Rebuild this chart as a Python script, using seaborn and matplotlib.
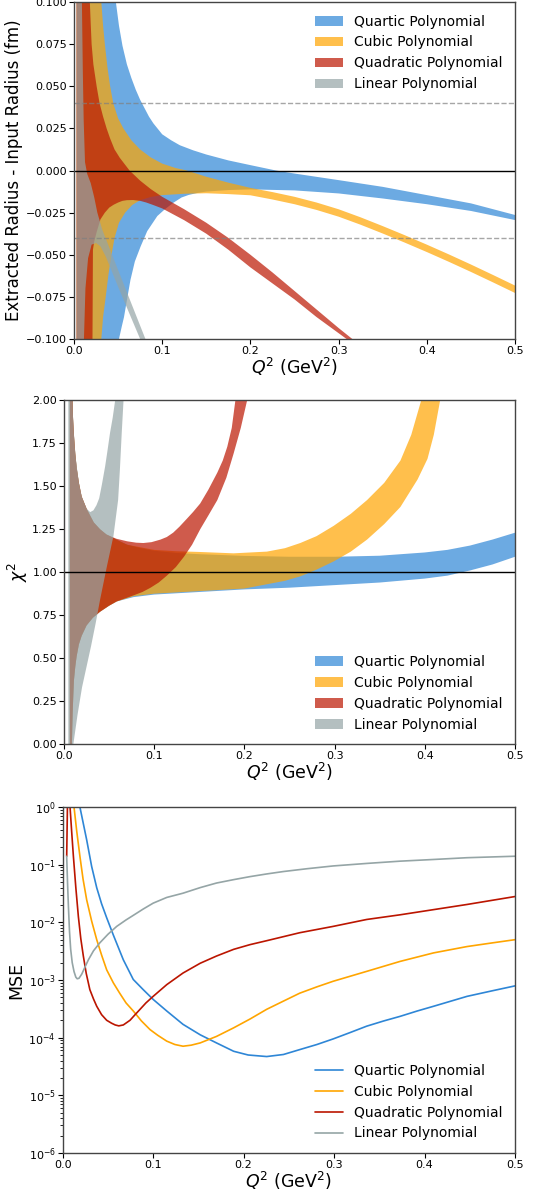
import matplotlib
matplotlib.use("Agg")
import matplotlib.pyplot as plt
import seaborn as sns
import pandas as pd

# estilo base de seaborn, luego fuentes y colores
sns.set_style("ticks")
plt.rcParams['font.family'] = ['DejaVu Sans']
plt.rcParams['text.color'] = 'black'
plt.rcParams['axes.labelcolor'] = 'black'
plt.rcParams['xtick.color'] = 'black'
plt.rcParams['ytick.color'] = 'black'
plt.rcParams['axes.edgecolor'] = '#333333'

AZUL = "#2E86D6"
NARANJA = "#FFA500"
ROJO = "#BB1500"
GRIS = "#95A5A6"
COLORES = [AZUL, NARANJA, ROJO, GRIS]
NOMBRES = ["Quartic Polynomial", "Cubic Polynomial", "Quadratic Polynomial", "Linear Polynomial"]
XLABEL = "$Q^2$ (GeV$^2$)"

# ---------------------------------------------------------------
# Panel 1: radio extraido - radio de entrada (bandas)
# ---------------------------------------------------------------
r4_up_x = [0.003, 0.040, 0.0475, 0.051, 0.055, 0.060, 0.065, 0.070, 0.075, 0.080, 0.085, 0.090, 0.100, 0.110, 0.120, 0.135,
           0.150, 0.175, 0.200, 0.229, 0.250, 0.300, 0.350, 0.400, 0.450, 0.500]
r4_up_y = [0.150, 0.150, 0.100, 0.086, 0.074, 0.063, 0.055, 0.048, 0.042, 0.037, 0.032, 0.028, 0.0215, 0.018, 0.015, 0.012,
           0.0095, 0.0060, 0.0032, 0.000, -0.0018, -0.0057, -0.0097, -0.0146, -0.0195, -0.0264]
r4_lo_x = [0.003, 0.045, 0.051, 0.054, 0.0567, 0.060, 0.064, 0.069, 0.0756, 0.083, 0.0945, 0.103, 0.113, 0.122, 0.130, 0.140,
           0.150, 0.175, 0.200, 0.250, 0.300, 0.350, 0.400, 0.450, 0.500]
r4_lo_y = [-0.150, -0.150, -0.100, -0.093, -0.087, -0.077, -0.065, -0.054, -0.045, -0.036, -0.027, -0.023, -0.019, -0.016, -0.0145, -0.0133,
           -0.0125, -0.0116, -0.0112, -0.0118, -0.0136, -0.0166, -0.0200, -0.0240, -0.0294]

r3_up_x = [0.003, 0.028, 0.031, 0.033, 0.035, 0.038, 0.041, 0.0445, 0.050, 0.056, 0.065, 0.075, 0.087, 0.100, 0.115, 0.128,
           0.150, 0.175, 0.200, 0.225, 0.250, 0.275, 0.300, 0.325, 0.350, 0.375, 0.400, 0.425, 0.450, 0.475, 0.500]
r3_up_y = [0.150, 0.150, 0.100, 0.086, 0.075, 0.061, 0.050, 0.040, 0.031, 0.025, 0.018, 0.0125, 0.0078, 0.0041, 0.0015, 0.000,
           -0.0037, -0.0072, -0.0103, -0.0128, -0.0156, -0.0190, -0.0230, -0.0278, -0.0330, -0.0384, -0.0440, -0.0498, -0.0558, -0.0620, -0.0683]
r3_lo_x = [0.003, 0.028, 0.031, 0.033, 0.036, 0.039, 0.0426, 0.046, 0.051, 0.058, 0.066, 0.075, 0.087, 0.100, 0.125, 0.150, 0.175,
           0.200, 0.225, 0.250, 0.275, 0.300, 0.325, 0.350, 0.375, 0.400, 0.425, 0.450, 0.475, 0.500]
r3_lo_y = [-0.150, -0.150, -0.100, -0.087, -0.075, -0.062, -0.050, -0.040, -0.031, -0.025, -0.0205, -0.0176, -0.0157, -0.0146, -0.0138, -0.0135, -0.0140,
           -0.0147, -0.0172, -0.0200, -0.0234, -0.0274, -0.0322, -0.0374, -0.0428, -0.0484, -0.0542, -0.0602, -0.0664, -0.0727]

r2_up_x = [0.003, 0.016, 0.018, 0.019, 0.020, 0.022, 0.0257, 0.029, 0.033, 0.037, 0.041, 0.046, 0.052, 0.063, 0.075, 0.087,
           0.100, 0.125, 0.150, 0.175, 0.200, 0.225, 0.250, 0.275, 0.300, 0.3155, 0.330]
r2_up_y = [0.150, 0.150, 0.100, 0.087, 0.075, 0.063, 0.050, 0.040, 0.032, 0.025, 0.019, 0.0125, 0.0075, 0.000, -0.006, -0.011,
           -0.0156, -0.023, -0.031, -0.040, -0.050, -0.0605, -0.0715, -0.0825, -0.0935, -0.100, -0.106]
r2_lo_x = [0.003, 0.0205, 0.0215, 0.023, 0.026, 0.030, 0.035, 0.040, 0.045, 0.050, 0.055, 0.060, 0.067, 0.075, 0.082, 0.090,
           0.100, 0.125, 0.150, 0.175, 0.200, 0.225, 0.250, 0.275, 0.309, 0.330]
r2_lo_y = [-0.150, -0.150, -0.047, -0.042, -0.036, -0.029, -0.025, -0.022, -0.0203, -0.019, -0.018, -0.0176, -0.0175, -0.018, -0.019, -0.0205,
           -0.0225, -0.0295, -0.0375, -0.0470, -0.0575, -0.0670, -0.0765, -0.0870, -0.100, -0.108]

r1_up_x = [0.0035, 0.0088, 0.009, 0.0095, 0.010, 0.011, 0.0125, 0.015, 0.019, 0.023, 0.0265, 0.032, 0.050, 0.081, 0.090]
r1_up_y = [0.150, 0.150, 0.100, 0.080, 0.060, 0.030, 0.005, -0.002, -0.0075, -0.016, -0.025, -0.035, -0.059, -0.100, -0.112]
r1_lo_x = [0.0035, 0.0105, 0.0113, 0.013, 0.016, 0.020, 0.025, 0.030, 0.036, 0.050, 0.075, 0.090]
r1_lo_y = [-0.150, -0.150, -0.100, -0.070, -0.052, -0.044, -0.043, -0.045, -0.051, -0.069, -0.100, -0.118]

# ---------------------------------------------------------------
# Panel 2: chi^2 (bandas)
# ---------------------------------------------------------------
c4_up_x = [0.0065, 0.0095, 0.010, 0.011, 0.0125, 0.014, 0.0165, 0.0196, 0.025, 0.033, 0.040, 0.047, 0.058, 0.070, 0.085,
           0.100, 0.125, 0.150, 0.200, 0.250, 0.300, 0.350, 0.400, 0.425, 0.450, 0.475, 0.500]
c4_up_y = [3.0, 2.0, 1.90, 1.80, 1.69, 1.61, 1.52, 1.44, 1.37, 1.29, 1.25, 1.22, 1.19, 1.16, 1.14,
           1.125, 1.112, 1.105, 1.095, 1.09, 1.09, 1.096, 1.115, 1.13, 1.155, 1.19, 1.23]
c4_lo_x = [0.0065, 0.0088, 0.0092, 0.0096, 0.0103, 0.011, 0.0125, 0.014, 0.0165, 0.0196, 0.025, 0.032, 0.040, 0.050, 0.0585,
           0.077, 0.100, 0.150, 0.200, 0.250, 0.300, 0.350, 0.400, 0.425, 0.450, 0.475, 0.500]
c4_lo_y = [-1.0, 0.0, 0.10, 0.18, 0.28, 0.37, 0.45, 0.51, 0.58, 0.63, 0.69, 0.735, 0.77, 0.805, 0.83,
           0.855, 0.87, 0.885, 0.90, 0.91, 0.925, 0.94, 0.963, 0.98, 1.01, 1.045, 1.09]

c3_up_x = [0.0065, 0.0095, 0.010, 0.011, 0.0125, 0.014, 0.0165, 0.0196, 0.025, 0.033, 0.040, 0.047, 0.058, 0.070, 0.085,
           0.100, 0.125, 0.150, 0.188, 0.225, 0.245, 0.262, 0.280, 0.299, 0.318, 0.336, 0.355, 0.373, 0.385, 0.396, 0.410]
c3_up_y = [3.0, 2.0, 1.90, 1.80, 1.69, 1.61, 1.52, 1.44, 1.37, 1.29, 1.25, 1.22, 1.19, 1.16, 1.145,
           1.13, 1.122, 1.118, 1.11, 1.12, 1.14, 1.17, 1.21, 1.27, 1.34, 1.42, 1.52, 1.65, 1.80, 2.0, 2.4]
c3_lo_x = [0.0065, 0.0088, 0.0092, 0.0096, 0.0103, 0.011, 0.0125, 0.014, 0.0165, 0.0196, 0.025, 0.032, 0.040, 0.050, 0.0585,
           0.077, 0.100, 0.150, 0.200, 0.225, 0.245, 0.262, 0.280, 0.299, 0.318, 0.336, 0.355, 0.373, 0.392, 0.403, 0.410, 0.417, 0.425]
c3_lo_y = [-1.0, 0.0, 0.10, 0.18, 0.28, 0.37, 0.45, 0.51, 0.58, 0.63, 0.69, 0.735, 0.77, 0.805, 0.83,
           0.86, 0.875, 0.89, 0.905, 0.93, 0.95, 0.976, 1.015, 1.063, 1.12, 1.19, 1.28, 1.38, 1.54, 1.66, 1.80, 2.0, 2.3]

c2_up_x = [0.0065, 0.0095, 0.010, 0.011, 0.0125, 0.014, 0.0165, 0.0196, 0.025, 0.033, 0.040, 0.047, 0.058, 0.070, 0.080,
           0.088, 0.097, 0.107, 0.114, 0.121, 0.128, 0.136, 0.143, 0.151, 0.160, 0.170, 0.176, 0.181, 0.186, 0.190, 0.195]
c2_up_y = [3.0, 2.0, 1.90, 1.80, 1.69, 1.61, 1.52, 1.44, 1.37, 1.29, 1.25, 1.22, 1.195, 1.18, 1.172,
           1.17, 1.175, 1.19, 1.205, 1.23, 1.265, 1.31, 1.35, 1.40, 1.48, 1.58, 1.65, 1.73, 1.84, 2.0, 2.3]
c2_lo_x = [0.0065, 0.0088, 0.0092, 0.0096, 0.0103, 0.011, 0.0125, 0.014, 0.0165, 0.0196, 0.025, 0.032, 0.040, 0.050, 0.0585,
           0.077, 0.087, 0.096, 0.105, 0.114, 0.124, 0.133, 0.142, 0.151, 0.160, 0.170, 0.180, 0.188, 0.196, 0.203, 0.210]
c2_lo_y = [-1.0, 0.0, 0.10, 0.18, 0.28, 0.37, 0.45, 0.51, 0.58, 0.63, 0.69, 0.735, 0.77, 0.805, 0.83,
           0.865, 0.885, 0.91, 0.94, 0.98, 1.03, 1.09, 1.16, 1.25, 1.33, 1.42, 1.55, 1.69, 1.84, 2.0, 2.3]

c1_up_x = [0.0048, 0.0092, 0.0095, 0.010, 0.011, 0.0125, 0.014, 0.0165, 0.0196, 0.025, 0.029, 0.0326, 0.036, 0.039, 0.042,
           0.0456, 0.048, 0.051, 0.054, 0.0567, 0.060]
c1_up_y = [3.0, 3.0, 2.0, 1.90, 1.80, 1.69, 1.62, 1.52, 1.44, 1.37, 1.35, 1.36, 1.39, 1.43, 1.51,
           1.616, 1.70, 1.81, 1.90, 2.0, 2.4]
c1_lo_x = [0.0048, 0.0097, 0.0104, 0.015, 0.020, 0.025, 0.030, 0.035, 0.040, 0.0474, 0.0548, 0.060, 0.062, 0.064, 0.066, 0.070]
c1_lo_y = [-1.0, -1.0, 0.0, 0.17, 0.33, 0.45, 0.57, 0.70, 0.84, 1.03, 1.21, 1.42, 1.60, 1.81, 2.0, 2.6]

# ---------------------------------------------------------------
# Panel 3: MSE (lineas, escala log)
# ---------------------------------------------------------------
m4_x = [0.017, 0.019, 0.0265, 0.032, 0.0376, 0.043, 0.0486, 0.056, 0.067, 0.078, 0.089, 0.100, 0.115, 0.133, 0.152, 0.170,
        0.189, 0.205, 0.2255, 0.244, 0.262, 0.281, 0.299, 0.318, 0.336, 0.355, 0.373, 0.392, 0.410, 0.447, 0.475, 0.500]
m4_y = [2.0, 1.0, 0.269, 9.3e-2, 3.98e-2, 2.09e-2, 1.20e-2, 6.0e-3, 2.24e-3, 1.02e-3, 6.8e-4, 4.6e-4, 2.9e-4, 1.7e-4, 1.12e-4, 8.1e-5,
        5.8e-5, 5.0e-5, 4.7e-5, 5.1e-5, 6.2e-5, 7.6e-5, 9.5e-5, 1.23e-4, 1.58e-4, 1.95e-4, 2.34e-4, 2.9e-4, 3.5e-4, 5.2e-4, 6.5e-4, 7.9e-4]

m3_x = [0.0115, 0.0125, 0.0155, 0.019, 0.0225, 0.0265, 0.032, 0.0376, 0.043, 0.0486, 0.056, 0.063, 0.070, 0.078, 0.087, 0.0965,
        0.105, 0.115, 0.124, 0.133, 0.142, 0.152, 0.170, 0.189, 0.207, 0.2255, 0.244, 0.262, 0.281, 0.299, 0.336, 0.373, 0.410,
        0.447, 0.475, 0.500]
m3_y = [2.0, 1.0, 0.38, 0.14, 5.6e-2, 2.45e-2, 1.05e-2, 5.0e-3, 2.7e-3, 1.5e-3, 8.9e-4, 5.9e-4, 4.0e-4, 2.9e-4, 1.95e-4, 1.38e-4,
        1.1e-4, 8.7e-5, 7.6e-5, 7.1e-5, 7.4e-5, 8.1e-5, 1.05e-4, 1.48e-4, 2.1e-4, 3.1e-4, 4.3e-4, 5.9e-4, 7.6e-4, 9.5e-4, 1.41e-3, 2.1e-3, 2.95e-3,
        3.8e-3, 4.4e-3, 5.0e-3]

m2_x = [0.0044, 0.0055, 0.0075, 0.0081, 0.010, 0.0118, 0.0145, 0.0173, 0.020, 0.0228, 0.026, 0.030, 0.034, 0.0376, 0.043, 0.0486,
        0.054, 0.058, 0.062, 0.067, 0.0744, 0.080, 0.0855, 0.092, 0.100, 0.115, 0.133, 0.152, 0.170, 0.189, 0.207, 0.2255, 0.262,
        0.299, 0.336, 0.373, 0.410, 0.447, 0.500]
m2_y = [0.14, 2.0, 2.0, 1.0, 0.355, 0.14, 4.0e-2, 1.26e-2, 5.2e-3, 2.6e-3, 1.3e-3, 6.8e-4, 4.7e-4, 3.5e-4, 2.5e-4, 2.0e-4,
        1.78e-4, 1.66e-4, 1.6e-4, 1.66e-4, 2.0e-4, 2.5e-4, 3.1e-4, 4.0e-4, 5.2e-4, 8.3e-4, 1.32e-3, 1.95e-3, 2.6e-3, 3.4e-3, 4.1e-3, 4.8e-3, 6.6e-3,
        8.5e-3, 1.12e-2, 1.35e-2, 1.66e-2, 2.04e-2, 2.8e-2]

m1_x = [0.0044, 0.0053, 0.0063, 0.0075, 0.0088, 0.0105, 0.0125, 0.0145, 0.016, 0.018, 0.021, 0.0245, 0.0284, 0.034, 0.041, 0.050,
        0.0597, 0.070, 0.078, 0.089, 0.100, 0.115, 0.133, 0.152, 0.170, 0.189, 0.207, 0.2255, 0.244, 0.270, 0.299, 0.336, 0.373,
        0.410, 0.447, 0.500]
m1_y = [0.14, 5.0e-2, 1.9e-2, 7.0e-3, 3.4e-3, 2.0e-3, 1.4e-3, 1.12e-3, 1.05e-3, 1.07e-3, 1.26e-3, 1.66e-3, 2.24e-3, 3.2e-3, 4.4e-3, 6.2e-3,
        8.5e-3, 1.1e-2, 1.32e-2, 1.7e-2, 2.15e-2, 2.7e-2, 3.2e-2, 4.0e-2, 4.8e-2, 5.5e-2, 6.2e-2, 6.9e-2, 7.6e-2, 8.5e-2, 9.5e-2, 0.105, 0.115,
        0.123, 0.132, 0.140]


def dibujar_banda(ax, up_x, up_y, lo_x, lo_y, color, nombre):
    # poligono cerrado: borde superior y luego el inferior al reves
    xs = list(up_x) + list(lo_x)[::-1]
    ys = list(up_y) + list(lo_y)[::-1]
    ax.fill(xs, ys, color=color, alpha=0.7, linewidth=0, label=nombre)


def estilo_eje(ax):
    ax.tick_params(labelsize=8, length=3.5, width=0.8, pad=1.5)
    for lado in ax.spines.values():
        lado.set_linewidth(1.0)
        lado.set_color('#444444')
    ax.set_xlim(0, 0.5)
    ax.set_xticks([0.0, 0.1, 0.2, 0.3, 0.4, 0.5])
    ax.set_xticklabels(["0.0", "0.1", "0.2", "0.3", "0.4", "0.5"])
    ax.set_xlabel(XLABEL, fontsize=12.5, labelpad=0)


figura = plt.figure(figsize=(5.36, 12), dpi=100)
ax1 = figura.add_axes([0.138, 0.7175, 0.823, 0.2808])
ax2 = figura.add_axes([0.1194, 0.380, 0.8414, 0.2863])
ax3 = figura.add_axes([0.117, 0.0392, 0.8438, 0.2883])

# Panel 1
bandas_r = [(r4_up_x, r4_up_y, r4_lo_x, r4_lo_y), (r3_up_x, r3_up_y, r3_lo_x, r3_lo_y),
            (r2_up_x, r2_up_y, r2_lo_x, r2_lo_y), (r1_up_x, r1_up_y, r1_lo_x, r1_lo_y)]
for (ux, uy, lx, ly), color, nombre in zip(bandas_r, COLORES, NOMBRES):
    dibujar_banda(ax1, ux, uy, lx, ly, color, nombre)
ax1.axhline(0, color='black', lw=1)
ax1.axhline(0.04, color='gray', lw=1, ls='--', alpha=0.7)
ax1.axhline(-0.04, color='gray', lw=1, ls='--', alpha=0.7)
estilo_eje(ax1)
ax1.set_ylim(-0.1, 0.1)
ax1.set_yticks([-0.1, -0.075, -0.05, -0.025, 0.0, 0.025, 0.05, 0.075, 0.1])
ax1.set_ylabel("Extracted Radius - Input Radius (fm)", fontsize=12, labelpad=2)
ax1.legend(loc='upper right', frameon=False, fontsize=10)

# Panel 2
bandas_c = [(c4_up_x, c4_up_y, c4_lo_x, c4_lo_y), (c3_up_x, c3_up_y, c3_lo_x, c3_lo_y),
            (c2_up_x, c2_up_y, c2_lo_x, c2_lo_y), (c1_up_x, c1_up_y, c1_lo_x, c1_lo_y)]
for (ux, uy, lx, ly), color, nombre in zip(bandas_c, COLORES, NOMBRES):
    dibujar_banda(ax2, ux, uy, lx, ly, color, nombre)
ax2.axhline(1.0, color='black', lw=1)
estilo_eje(ax2)
ax2.set_ylim(0, 2)
ax2.set_yticks([0, 0.25, 0.5, 0.75, 1.0, 1.25, 1.5, 1.75, 2.0])
ax2.set_ylabel("$\\chi^2$", fontsize=12.5, labelpad=2)
ax2.legend(loc='lower right', frameon=False, fontsize=10)

# Panel 3
lineas = [(m4_x, m4_y), (m3_x, m3_y), (m2_x, m2_y), (m1_x, m1_y)]
for (mx, my), color, nombre in zip(lineas, COLORES, NOMBRES):
    datos = pd.DataFrame({"q2": mx, "mse": my})
    sns.lineplot(data=datos, x="q2", y="mse", ax=ax3, color=color, lw=1.2,
                 label=nombre, sort=False, estimator=None)
ax3.set_yscale('log')
estilo_eje(ax3)
ax3.set_ylim(1e-6, 1)
ax3.set_ylabel("MSE", fontsize=12.5, labelpad=2)
ax3.legend(loc='lower right', frameon=False, fontsize=10)

figura.savefig("out.png", dpi=100)
plt.close(figura)
